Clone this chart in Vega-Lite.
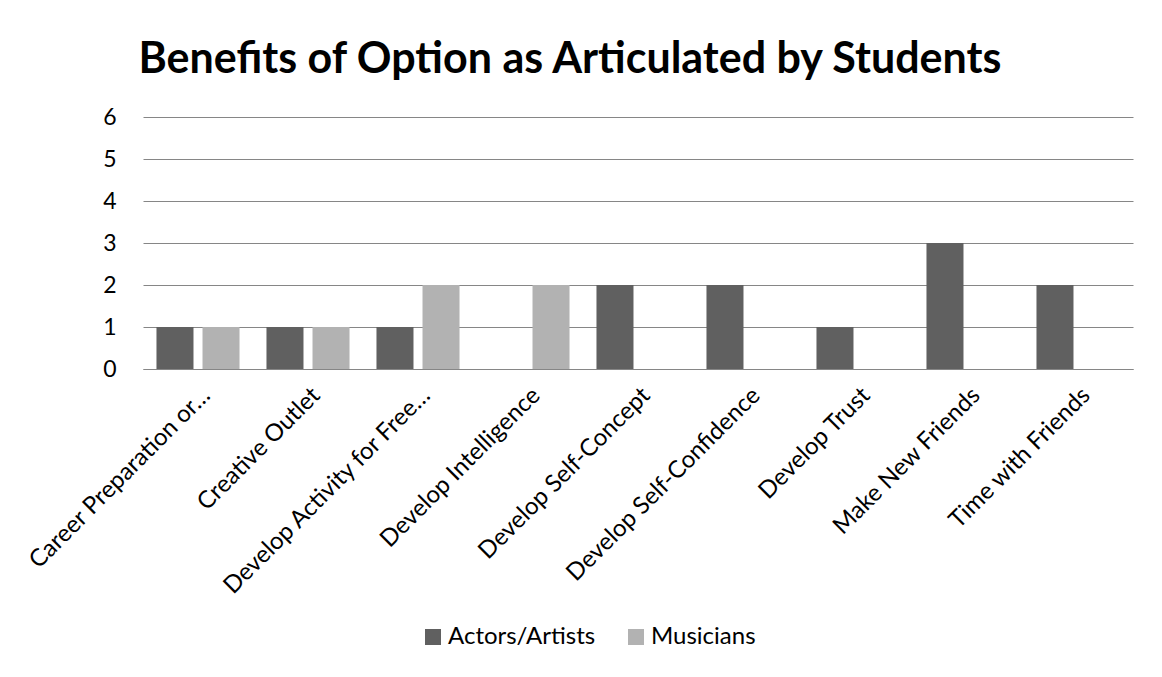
{
  "$schema": "https://vega.github.io/schema/vega-lite/v6.json",
  "autosize": "none",
  "width": 990,
  "height": 252,
  "padding": {"left": 143, "top": 117, "right": 29, "bottom": 308},
  "background": "white",
  "title": {
    "text": "Benefits of Option as Articulated by Students",
    "font": "Lato",
    "fontSize": 43,
    "fontWeight": "bold",
    "color": "#000000",
    "anchor": "middle",
    "dx": -68,
    "offset": 24
  },
  "data": {
    "values": [
      {"benefit": "Career Preparation or…", "group": "Actors/Artists", "count": 1},
      {"benefit": "Career Preparation or…", "group": "Musicians", "count": 1},
      {"benefit": "Creative Outlet", "group": "Actors/Artists", "count": 1},
      {"benefit": "Creative Outlet", "group": "Musicians", "count": 1},
      {"benefit": "Develop Activity for Free…", "group": "Actors/Artists", "count": 1},
      {"benefit": "Develop Activity for Free…", "group": "Musicians", "count": 2},
      {"benefit": "Develop Intelligence", "group": "Actors/Artists", "count": 0},
      {"benefit": "Develop Intelligence", "group": "Musicians", "count": 2},
      {"benefit": "Develop Self-Concept", "group": "Actors/Artists", "count": 2},
      {"benefit": "Develop Self-Concept", "group": "Musicians", "count": 0},
      {"benefit": "Develop Self-Confidence", "group": "Actors/Artists", "count": 2},
      {"benefit": "Develop Self-Confidence", "group": "Musicians", "count": 0},
      {"benefit": "Develop Trust", "group": "Actors/Artists", "count": 1},
      {"benefit": "Develop Trust", "group": "Musicians", "count": 0},
      {"benefit": "Make New Friends", "group": "Actors/Artists", "count": 3},
      {"benefit": "Make New Friends", "group": "Musicians", "count": 0},
      {"benefit": "Time with Friends", "group": "Actors/Artists", "count": 2},
      {"benefit": "Time with Friends", "group": "Musicians", "count": 0}
    ]
  },
  "mark": {"type": "bar"},
  "encoding": {
    "x": {
      "field": "benefit",
      "type": "nominal",
      "sort": null,
      "scale": {"paddingInner": 0.245, "paddingOuter": 0.1225},
      "axis": {
        "title": null,
        "labelAngle": -45,
        "labelFont": "Lato",
        "labelFontSize": 24,
        "labelColor": "#000000",
        "labelPadding": 14,
        "labelLimit": 400,
        "ticks": false,
        "domainColor": "#868686",
        "domainWidth": 1,
        "grid": false
      }
    },
    "xOffset": {
      "field": "group",
      "type": "nominal",
      "scale": {"paddingInner": 0.196, "paddingOuter": 0}
    },
    "y": {
      "field": "count",
      "type": "quantitative",
      "scale": {"domain": [0, 6], "nice": false},
      "axis": {
        "title": null,
        "values": [0, 1, 2, 3, 4, 5, 6],
        "labelFont": "Lato",
        "labelFontSize": 23,
        "labelColor": "#000000",
        "labelPadding": 27,
        "ticks": false,
        "domain": false,
        "gridColor": "#868686",
        "gridWidth": 1,
        "gridOpacity": 1
      }
    },
    "color": {
      "field": "group",
      "type": "nominal",
      "scale": {"domain": ["Actors/Artists", "Musicians"], "range": ["#606060", "#b2b2b2"]},
      "legend": {
        "title": null,
        "orient": "none",
        "direction": "horizontal",
        "legendX": 278,
        "legendY": 508,
        "symbolType": "square",
        "symbolSize": 256,
        "symbolOpacity": 1,
        "symbolStrokeWidth": 0,
        "labelFont": "Lato",
        "labelFontSize": 24,
        "labelColor": "#000000",
        "columnPadding": 28,
        "labelOffset": 3
      }
    }
  },
  "config": {
    "view": {"stroke": null}
  }
}
